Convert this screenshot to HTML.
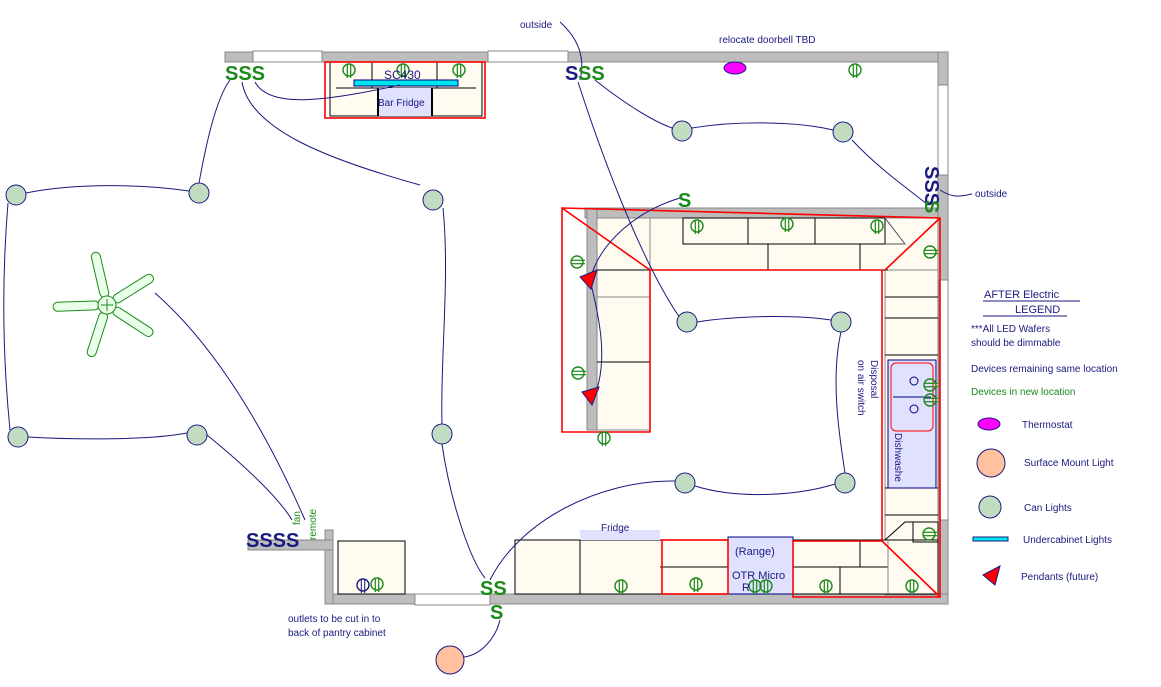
<!DOCTYPE html>
<html><head><meta charset="utf-8"><style>
html,body{margin:0;padding:0;background:#fff;}
svg{display:block;}
text{font-family:"Liberation Sans",sans-serif;}
</style></head><body>
<svg width="1161" height="687" viewBox="0 0 1161 687" xmlns="http://www.w3.org/2000/svg">
<defs>
<g id="out"><circle cx="0" cy="0" r="6" fill="none" stroke="#1a8a1a" stroke-width="1.4"/><line x1="-1.7" y1="-6" x2="-1.7" y2="8" stroke="#1a8a1a" stroke-width="1.2"/><line x1="1.7" y1="-6" x2="1.7" y2="8" stroke="#1a8a1a" stroke-width="1.2"/></g>
<g id="outh"><circle cx="0" cy="0" r="6" fill="none" stroke="#1a8a1a" stroke-width="1.4"/><line x1="-6" y1="-1.7" x2="8" y2="-1.7" stroke="#1a8a1a" stroke-width="1.2"/><line x1="-6" y1="1.7" x2="8" y2="1.7" stroke="#1a8a1a" stroke-width="1.2"/></g>
</defs>
<g fill="#bdbdbd" stroke="#888" stroke-width="1">
<rect x="225" y="52" width="723" height="10"/>
<rect x="938" y="52" width="10" height="552"/>
<rect x="325" y="594" width="623" height="10"/>
<rect x="325" y="530" width="8" height="74"/>
<rect x="248" y="540" width="85" height="10"/>
<rect x="585" y="208" width="353" height="10"/>
<rect x="587" y="208" width="10" height="222"/>
</g>
<g fill="#fff" stroke="#888">
<rect x="253" y="51" width="69" height="11"/><rect x="488" y="51" width="80" height="11"/>
<rect x="938" y="85" width="10" height="90"/>
<rect x="939" y="280" width="9" height="240"/>
<rect x="415" y="594" width="75" height="11"/>
</g>
<g fill="#fffbf0" stroke="#000" stroke-width="1">
<rect x="330" y="62" width="152" height="54"/>
<rect x="597" y="218" width="341" height="52" stroke="#888"/>
<rect x="683" y="218" width="202" height="26"/>
<rect x="597" y="218" width="53" height="212" stroke="#888"/>
<rect x="885" y="270" width="53" height="325" stroke="#888"/>
<rect x="515" y="540" width="423" height="54"/>
<rect x="338" y="541" width="67" height="53"/>
</g>
<g stroke="#000" fill="none">
<line x1="372" y1="62" x2="372" y2="88"/><line x1="437" y1="62" x2="437" y2="88"/><line x1="336" y1="88" x2="476" y2="88"/>
<line x1="748" y1="218" x2="748" y2="244"/><line x1="815" y1="218" x2="815" y2="244"/>
<line x1="597" y1="270" x2="888" y2="270"/><line x1="768" y1="244" x2="768" y2="270"/><line x1="860" y1="244" x2="860" y2="270"/>
<line x1="597" y1="297" x2="650" y2="297" stroke="#888"/><line x1="597" y1="362" x2="650" y2="362"/>
<line x1="885" y1="297" x2="938" y2="297"/><line x1="885" y1="318" x2="938" y2="318"/><line x1="885" y1="355" x2="938" y2="355"/><line x1="885" y1="488" x2="938" y2="488"/><line x1="885" y1="515" x2="938" y2="515"/>
<line x1="580" y1="540" x2="580" y2="594"/><line x1="660" y1="567" x2="728" y2="567"/><line x1="793" y1="567" x2="888" y2="567"/><line x1="840" y1="567" x2="840" y2="594"/><line x1="860" y1="540" x2="860" y2="567"/>
<polyline points="888,540 888,567 888,594" stroke="#888"/>
<polyline points="885,540 905,522 938,522" /><rect x="913" y="522" width="25" height="20"/>
<polyline points="885,218 905,244 885,244" stroke="#555"/>
</g>
<rect x="378" y="88" width="54" height="28" fill="#e0e0ff"/>
<line x1="378" y1="88" x2="378" y2="116" stroke="#000" stroke-width="2"/><line x1="432" y1="88" x2="432" y2="116" stroke="#000" stroke-width="2"/>
<rect x="354" y="80" width="104" height="6" fill="#00e5ee" stroke="#000080"/>
<rect x="580" y="530" width="80" height="10" fill="#e0e0ff"/>
<rect x="728" y="537" width="65" height="57" fill="#e0e0ff" stroke="#000080"/>
<rect x="888" y="360" width="48" height="128" fill="#e0e0ff" stroke="#000080"/>
<rect x="891" y="363" width="42" height="68" rx="5" fill="#e0e0ff" stroke="red"/>
<line x1="893" y1="397" x2="931" y2="397" stroke="#000080"/>
<circle cx="914" cy="381" r="4" fill="none" stroke="#000080"/><circle cx="914" cy="409" r="4" fill="none" stroke="#000080"/>
<g fill="none" stroke="red" stroke-width="1.6">
<rect x="325" y="62" width="160" height="56"/>
<polygon points="562,208 940,218 940,597 793,597 793,541 882,541 882,270 650,270 650,432 562,432"/>
<line x1="562" y1="208" x2="650" y2="270"/><line x1="940" y1="218" x2="885" y2="270"/><line x1="882" y1="541" x2="940" y2="597"/>
<rect x="662" y="540" width="66" height="54"/>
</g>
<g fill="none" stroke="#1a1a80" stroke-width="1">
<path d="M230,80 C215,100 205,150 199,183"/>
<path d="M26,193 C80,182 150,185 189,191"/>
<path d="M8,203 C0,300 5,380 10,430"/>
<path d="M28,437 C80,440 150,440 187,433"/>
<path d="M207,435 C250,470 280,500 292,520"/>
<path d="M155,293 C220,350 270,440 305,520"/>
<path d="M242,82 C250,130 330,160 420,185"/>
<path d="M443,208 C450,280 440,360 442,424"/>
<path d="M442,444 C450,500 470,560 485,578"/>
<path d="M255,82 C270,110 330,100 400,85"/>
<path d="M560,22 C580,40 585,60 580,80"/>
<path d="M578,82 C600,150 640,260 680,318"/>
<path d="M595,80 C620,100 650,120 672,128"/>
<path d="M692,128 C740,120 800,122 833,130"/>
<path d="M852,140 C880,170 910,190 928,205"/>
<path d="M697,322 C740,315 800,315 831,320"/>
<path d="M841,332 C830,380 840,440 845,473"/>
<path d="M695,486 C740,500 800,495 835,484"/>
<path d="M675,481 C600,480 520,520 490,580"/>
<path d="M680,198 C640,210 600,240 590,280 C600,320 608,360 595,395"/>
<path d="M940,190 C955,200 965,195 972,194"/>
<path d="M500,620 C495,640 480,655 464,657"/>
</g>
<g stroke="#1a1a80" stroke-width="1">
<circle cx="16" cy="195" r="10" fill="#c2dcc2"/><circle cx="199" cy="193" r="10" fill="#c2dcc2"/><circle cx="433" cy="200" r="10" fill="#c2dcc2"/>
<circle cx="682" cy="131" r="10" fill="#c2dcc2"/><circle cx="843" cy="132" r="10" fill="#c2dcc2"/>
<circle cx="687" cy="322" r="10" fill="#c2dcc2"/><circle cx="841" cy="322" r="10" fill="#c2dcc2"/>
<circle cx="18" cy="437" r="10" fill="#c2dcc2"/><circle cx="197" cy="435" r="10" fill="#c2dcc2"/><circle cx="442" cy="434" r="10" fill="#c2dcc2"/>
<circle cx="685" cy="483" r="10" fill="#c2dcc2"/><circle cx="845" cy="483" r="10" fill="#c2dcc2"/>
<circle cx="450" cy="660" r="14" fill="#ffc19e"/>
<ellipse cx="735" cy="68" rx="11" ry="6" fill="#ff00ff"/>
<polygon points="580,277 597,270 591,289" fill="red"/>
<polygon points="582,392 599,387 592,405" fill="red"/>
</g>
<g transform="translate(107,305)" fill="#eaffea" stroke="#1a8a1a" stroke-width="1">
<rect x="8" y="-4.5" width="46" height="9" rx="4.5" transform="rotate(-32)"/>
<rect x="8" y="-4.5" width="46" height="9" rx="4.5" transform="rotate(33)"/>
<rect x="8" y="-4.5" width="46" height="9" rx="4.5" transform="rotate(108)"/>
<rect x="8" y="-4.5" width="46" height="9" rx="4.5" transform="rotate(178)"/>
<rect x="8" y="-4.5" width="46" height="9" rx="4.5" transform="rotate(-103)"/>
<circle r="9"/><line x1="-6" y1="0" x2="6" y2="0"/><line x1="0" y1="-6" x2="0" y2="6"/>
</g>
<use href="#out" x="349" y="70"/><use href="#out" x="403" y="70"/><use href="#out" x="459" y="70"/>
<use href="#out" x="855" y="70"/>
<use href="#out" x="697" y="226"/><use href="#out" x="787" y="224"/><use href="#out" x="877" y="226"/>
<use href="#outh" x="577" y="262"/><use href="#outh" x="578" y="373"/><use href="#outh" x="930" y="252"/>
<use href="#out" x="604" y="438"/>
<use href="#outh" x="930" y="385"/><use href="#outh" x="930" y="400"/><use href="#outh" x="929" y="534"/>
<use href="#out" x="621" y="586"/><use href="#out" x="696" y="584"/><use href="#out" x="755" y="586"/><use href="#out" x="766" y="586"/>
<use href="#out" x="826" y="586"/><use href="#out" x="912" y="586"/><use href="#out" x="377" y="584"/>
<circle cx="363" cy="585" r="6" fill="none" stroke="#1a1a80" stroke-width="1.4"/><line x1="361.3" y1="579" x2="361.3" y2="593" stroke="#1a1a80"/><line x1="364.7" y1="579" x2="364.7" y2="593" stroke="#1a1a80"/>
<g font-weight="bold" font-size="20">
<text x="225" y="80" fill="#1a8a1a">SSS</text>
<text x="565" y="80" fill="#1a1a80">S</text><text x="578" y="80" fill="#1a8a1a">SS</text>
<text x="678" y="207" fill="#1a8a1a">S</text>
<text x="246" y="547" fill="#1a1a80">SSSS</text>
<text x="480" y="595" fill="#1a8a1a">SS</text>
<text x="490" y="619" fill="#1a8a1a">S</text>
<g transform="translate(925,166) rotate(90)"><text x="0" y="0" fill="#1a1a80">SSS</text><text x="34" y="0" fill="#1a8a1a">S</text></g>
</g>
<g font-size="10" fill="#1a1a80">
<text x="520" y="28">outside</text>
<text x="719" y="43">relocate doorbell TBD</text>
<text x="975" y="197">outside</text>
<text x="384" y="79" font-size="12">SC430</text>
<text x="378" y="106">Bar Fridge</text>
<text x="601" y="531">Fridge</text>
<text x="735" y="555" font-size="11">(Range)</text>
<text x="732" y="579" font-size="11">OTR Micro</text>
<text x="742" y="591" font-size="11">R</text>
<text x="288" y="622">outlets to be cut in to</text>
<text x="288" y="636">back of pantry cabinet</text>
<text transform="translate(871,360) rotate(90)">Disposal</text>
<text transform="translate(858,360) rotate(90)">on air switch</text>
<text transform="translate(895,433) rotate(90)">Dishwashe</text>
<text transform="translate(300,525) rotate(-90)" fill="#1a8a1a">fan</text>
<text transform="translate(316,540) rotate(-90)" fill="#1a8a1a">remote</text>
<text x="984" y="298" font-size="11">AFTER Electric</text>
<text x="1015" y="313" font-size="11">LEGEND</text>
<line x1="983" y1="301" x2="1080" y2="301" stroke="#1a1a80"/><line x1="983" y1="316" x2="1067" y2="316" stroke="#1a1a80"/>
<text x="971" y="332">***All LED Wafers</text>
<text x="971" y="346">should be dimmable</text>
<text x="971" y="372">Devices remaining same location</text>
<text x="971" y="395" fill="#1a8a1a">Devices in new location</text>
<text x="1022" y="428">Thermostat</text>
<text x="1024" y="466">Surface Mount Light</text>
<text x="1024" y="511">Can Lights</text>
<text x="1023" y="543">Undercabinet Lights</text>
<text x="1021" y="580">Pendants (future)</text>
</g>
<g stroke="#1a1a80">
<ellipse cx="989" cy="424" rx="11" ry="6" fill="#ff00ff"/>
<circle cx="991" cy="463" r="14" fill="#ffc19e"/>
<circle cx="990" cy="507" r="11" fill="#c2dcc2"/>
<rect x="973" y="537" width="35" height="4" fill="#00e5ee"/>
<polygon points="983,575 1000,566 995,585" fill="red"/>
</g>
</svg>
</body></html>
